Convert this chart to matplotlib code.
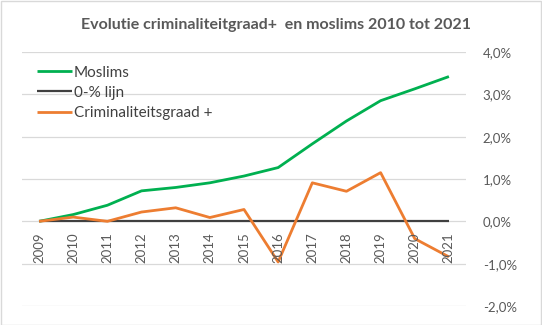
import matplotlib
matplotlib.use("Agg")
import matplotlib.pyplot as plt
from matplotlib.ticker import FuncFormatter, MultipleLocator

plt.rcParams['font.family'] = ['Lato', 'DejaVu Sans']

# Gegevens
jaren = ['2009', '2010', '2011', '2012', '2013', '2014', '2015',
         '2016', '2017', '2018', '2019', '2020', '2021']
moslims = [0.0, 0.16, 0.38, 0.72, 0.80, 0.91, 1.07, 1.27, 1.83, 2.37, 2.85, 3.13, 3.42]
nul_lijn = [0.0] * len(jaren)
criminaliteit = [0.0, 0.10, 0.0, 0.22, 0.32, 0.09, 0.28, -0.96, 0.91, 0.71, 1.15, -0.41, -0.84]

grijs = '#595959'

fig = plt.figure(figsize=(5.42, 3.25), dpi=100)
ax = fig.add_axes([22 / 542, 19 / 325, 444 / 542, 254 / 325])

x = range(len(jaren))
ax.plot(x, moslims, color='#00B050', lw=2.0, label='Moslims', solid_capstyle='butt')
ax.plot(x, nul_lijn, color='#404040', lw=1.6, label='0-% lijn', solid_capstyle='butt')
ax.plot(x, criminaliteit, color='#ED7D31', lw=2.0, label='Criminaliteitsgraad +', solid_capstyle='butt')

ax.set_xlim(-0.5, len(jaren) - 0.5)
ax.set_ylim(-2.0, 4.0)
ax.yaxis.set_major_locator(MultipleLocator(1.0))
ax.yaxis.set_major_formatter(FuncFormatter(lambda v, p: f"{v:.1f}%".replace('.', ',')))
ax.yaxis.tick_right()
ax.tick_params(axis='y', length=0, pad=12, labelsize=9.5, labelcolor=grijs)
for lab in ax.get_yticklabels():
    lab.set_horizontalalignment('left')
ax.grid(axis='y', color='#D9D9D9', lw=0.9)
ax.set_axisbelow(True)

# x-as labels net onder de nullijn
ax.set_xticks(list(x))
ax.set_xticklabels([])
ax.tick_params(axis='x', length=0)
for i, j in enumerate(jaren):
    ax.text(i, -0.26, j, rotation=90, ha='center', va='top', fontsize=9.5, color=grijs)

for s in ax.spines.values():
    s.set_visible(False)

ax.legend(loc='upper left', bbox_to_anchor=(0.02, 0.97), frameon=False, fontsize=11,
          labelcolor='#404040', handlelength=2.3, handletextpad=0.1, labelspacing=0.4,
          borderaxespad=0)

fig.text(0.51, 0.922, 'Evolutie criminaliteitgraad+  en moslims 2010 tot 2021',
         ha='center', va='center', fontsize=11.5, fontweight='bold', color=grijs)

# kaderrand zoals in Excel
fig.patches.append(plt.Rectangle((0.001, 0.001), 0.997, 0.997, transform=fig.transFigure,
                                 fill=False, edgecolor='#D9D9D9', lw=1))

fig.savefig('out.png', dpi=100)
